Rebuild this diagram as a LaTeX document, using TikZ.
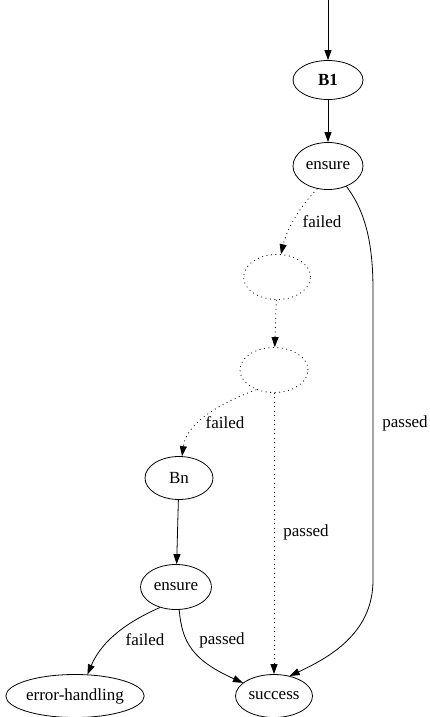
\documentclass[tikz,border=0pt]{standalone}
\usepackage{fontspec}
\setmainfont{Liberation Serif}
\usetikzlibrary{shapes.geometric,arrows.meta}
\begin{document}
\begin{tikzpicture}[x=1pt,y=-1pt,
  every node/.style={font=\fontsize{17}{20}\selectfont},
  state/.style={ellipse,draw,line width=0.8pt,inner sep=0pt},
  ghost/.style={state,dash pattern=on 0.9pt off 3.6pt},
  edge/.style={line width=0.8pt,-{Triangle[length=10pt,width=7pt]}},
  dotedge/.style={edge,dash pattern=on 0.9pt off 3.6pt},
  lbl/.style={inner sep=0pt}]
\useasboundingbox (0,0) rectangle (430,717);

% states
\node[state,minimum width=70pt,minimum height=39pt,font=\fontsize{17}{20}\selectfont\bfseries] (b1) at (328,80) {B1};
\node[state,minimum width=70pt,minimum height=47pt] (ens1) at (328,166) {ensure};
\node[ghost,minimum width=67pt,minimum height=45pt] (g1) at (277,277) {};
\node[ghost,minimum width=68pt,minimum height=45pt] (g2) at (274,370) {};
\node[state,minimum width=68pt,minimum height=43pt] (bn) at (179,478) {Bn};
\node[state,minimum width=71pt,minimum height=45pt] (ens2) at (176,587) {ensure};
\node[state,minimum width=125pt,minimum height=43pt] (err) at (75,696) {error-handling};
\node[state,minimum width=77pt,minimum height=43pt] (succ) at (274,696) {success};
\coordinate (entry) at (328,0);

% connectors
\draw[edge] (entry) -- (b1);
\draw[edge] (b1) -- (ens1);
\draw[dotedge] (ens1.245) .. controls (298,208) and (286,232) .. (g1.80);
\draw[dotedge] (g1) -- (g2);
\draw[dotedge] (g2.228) .. controls (215,405) and (186,425) .. (bn.82);
\draw[dotedge] (g2) -- (succ);
\draw[edge] (ens1.-48) .. controls (366,212) and (373,245) .. (373,290)
  -- (373,580) .. controls (373,630) and (335,655) .. (succ.52);
\draw[edge] (bn) -- (ens2);
\draw[edge] (ens2.232) .. controls (120,625) and (100,645) .. (err.60);
\draw[edge] (ens2.-82) .. controls (182,642) and (192,660) .. (succ.157);

% labels
\node[lbl] at (322,222) {failed};
\node[lbl] at (225,423) {failed};
\node[lbl] at (306,532) {passed};
\node[lbl] at (405,423) {passed};
\node[lbl] at (145,640) {failed};
\node[lbl] at (222,640) {passed};
\end{tikzpicture}
\end{document}
